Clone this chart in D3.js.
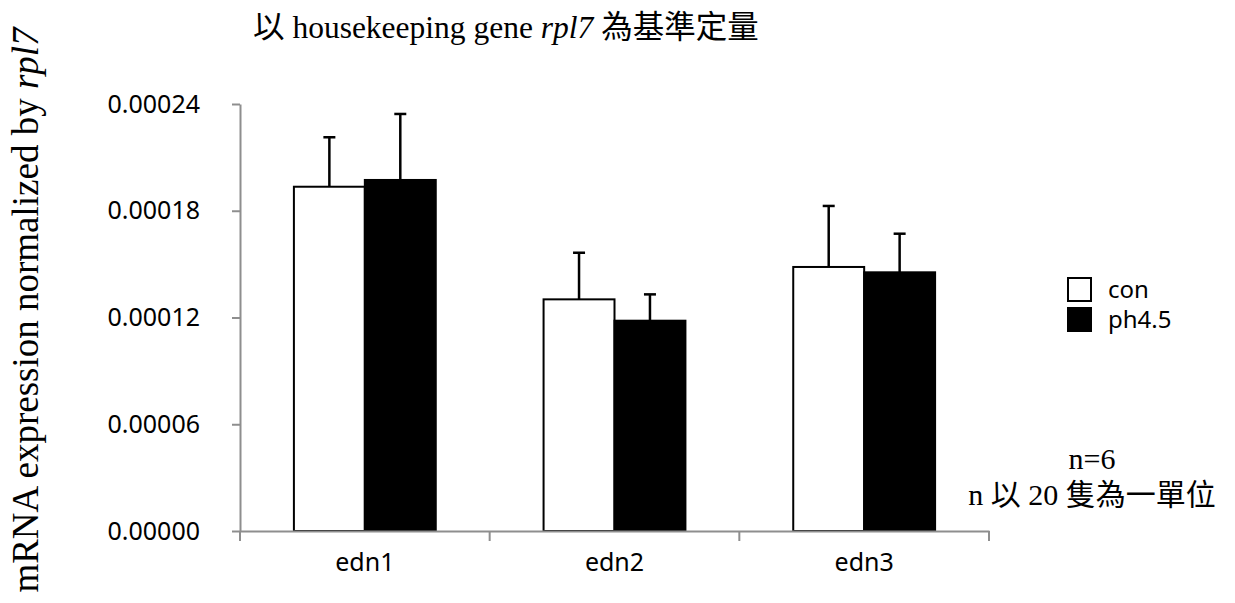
<!DOCTYPE html>
<html>
<head>
<meta charset="utf-8">
<script src="https://cdn.jsdelivr.net/npm/d3@7"></script>
<style>
  body { margin: 0; background: #fff; }
  svg { display: block; }
</style>
</head>
<body>
<div id="chart"></div>
<script>
// datos
var genes = ["edn1", "edn2", "edn3"];
var series = ["con", "ph4.5"];
var conValues = [0.0001935, 0.0001302, 0.0001484];
var conErrors = [0.0000278, 0.0000262, 0.0000343];
var phValues = [0.0001973, 0.0001182, 0.0001454];
var phErrors = [0.0000371, 0.0000148, 0.0000217];
var yTicks = [0, 0.00006, 0.00012, 0.00018, 0.00024];
var seriesFill = ["#ffffff", "#000000"];

var width = 1235;
var height = 603;
var plotLeft = 240, plotRight = 989, plotTop = 104, plotBottom = 531;

var table = [];
genes.forEach(function(g, i) {
    table.push({ gene: g, serie: "con", value: conValues[i], err: conErrors[i] });
    table.push({ gene: g, serie: "ph4.5", value: phValues[i], err: phErrors[i] });
});

var svg = d3.select("#chart")
    .append("svg")
    .attr("width", width)
    .attr("height", height);

// escalas
var x0 = d3.scaleBand().domain(genes).range([plotLeft, plotRight]).padding(0);
var x1 = d3.scaleBand().domain(series).range([0, x0.bandwidth()])
    .paddingInner(0).paddingOuter(0.76);
var y = d3.scaleLinear().domain([0, 0.00024]).range([plotBottom, plotTop]);
var color = d3.scaleOrdinal().domain(series).range(seriesFill);

// barras
svg.append("g")
    .selectAll("rect")
    .data(table)
    .enter()
    .append("rect")
    .attr("x", d => x0(d.gene) + x1(d.serie))
    .attr("y", d => y(d.value))
    .attr("width", x1.bandwidth())
    .attr("height", d => y(0) - y(d.value))
    .attr("fill", d => color(d.serie))
    .attr("stroke", "#000")
    .attr("stroke-width", 2);

// barras de error (solo hacia arriba)
var errs = svg.append("g")
    .selectAll("g")
    .data(table)
    .enter()
    .append("g")
    .attr("stroke", "#000")
    .attr("stroke-width", 2.5);

errs.append("line")
    .attr("x1", d => x0(d.gene) + x1(d.serie) + x1.bandwidth() / 2)
    .attr("x2", d => x0(d.gene) + x1(d.serie) + x1.bandwidth() / 2)
    .attr("y1", d => y(d.value))
    .attr("y2", d => y(d.value + d.err));

errs.append("line")
    .attr("x1", d => x0(d.gene) + x1(d.serie) + x1.bandwidth() / 2 - 6)
    .attr("x2", d => x0(d.gene) + x1(d.serie) + x1.bandwidth() / 2 + 6)
    .attr("y1", d => y(d.value + d.err))
    .attr("y2", d => y(d.value + d.err));

// eje Y
var yaxis = d3.axisLeft(y)
    .tickValues(yTicks)
    .tickFormat(d3.format(".5f"))
    .tickSize(8)
    .tickSizeOuter(0)
    .tickPadding(32);

var gy = svg.append("g")
    .attr("transform", "translate(" + plotLeft + ",0)")
    .call(yaxis);

gy.selectAll("path, line").attr("stroke", "#8e8e8e").attr("stroke-width", 2);
gy.selectAll("text")
    .attr("fill", "#000")
    .style("font-family", "'Noto Sans', sans-serif")
    .style("font-size", "25px");

// eje X
var xaxis = d3.axisBottom(x0).tickSize(0).tickPadding(22);
var gx = svg.append("g")
    .attr("transform", "translate(0," + plotBottom + ")")
    .call(xaxis);

gx.select(".domain").attr("stroke", "#8e8e8e").attr("stroke-width", 2);
gx.selectAll("text")
    .attr("fill", "#000")
    .style("font-family", "'Noto Sans', sans-serif")
    .style("font-size", "25px");

// marcas entre categorias
var bounds = genes.map(g => x0(g)).concat([x0(genes[genes.length - 1]) + x0.step()]);
gx.selectAll(".bound")
    .data(bounds)
    .enter()
    .append("line")
    .attr("class", "bound")
    .attr("x1", d => d)
    .attr("x2", d => d)
    .attr("y1", 0)
    .attr("y2", 10)
    .attr("stroke", "#8e8e8e")
    .attr("stroke-width", 2);

// leyenda
var legend = svg.append("g")
    .selectAll("g")
    .data(series)
    .enter()
    .append("g")
    .attr("transform", (d, i) => "translate(1068," + (278 + i * 30) + ")");

legend.append("rect")
    .attr("width", 23)
    .attr("height", 23)
    .attr("fill", d => color(d))
    .attr("stroke", "#000")
    .attr("stroke-width", 2);

legend.append("text")
    .attr("x", 40)
    .attr("y", 20)
    .style("font-family", "'Noto Sans', sans-serif")
    .style("font-size", "24px")
    .text(d => d);

// titulo
var title = svg.append("text")
    .attr("x", 253)
    .attr("y", 38)
    .style("font-family", "'Liberation Serif', 'Noto Sans CJK TC', serif")
    .style("font-size", "31.5px");
title.append("tspan").text("以 housekeeping gene ");
title.append("tspan").style("font-style", "italic").text("rpl7");
title.append("tspan").text(" 為基準定量");

// titulo eje Y
var ytitle = svg.append("text")
    .attr("transform", "translate(38,310) rotate(-90)")
    .style("text-anchor", "middle")
    .style("font-family", "'Liberation Serif', serif")
    .style("font-size", "37px");
ytitle.append("tspan").text("mRNA expression normalized by ");
ytitle.append("tspan").style("font-style", "italic").text("rpl7");

// nota
svg.append("text")
    .attr("x", 1092)
    .attr("y", 469)
    .style("text-anchor", "middle")
    .style("font-family", "'Liberation Serif', 'Noto Sans CJK TC', serif")
    .style("font-size", "30px")
    .text("n=6");

svg.append("text")
    .attr("x", 1092)
    .attr("y", 505)
    .style("text-anchor", "middle")
    .style("font-family", "'Liberation Serif', 'Noto Sans CJK TC', serif")
    .style("font-size", "30px")
    .text("n 以 20 隻為一單位");
</script>
</body>
</html>
